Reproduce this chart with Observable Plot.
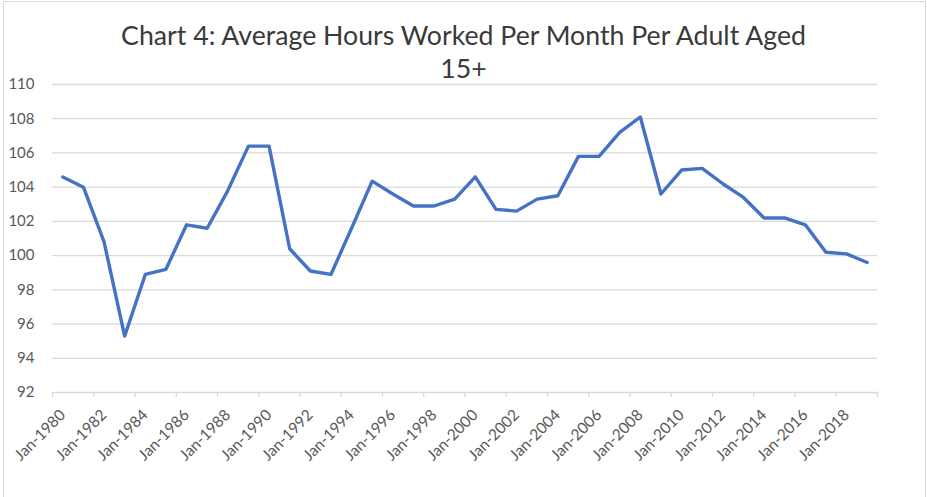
<!DOCTYPE html>
<html>
<head>
<meta charset="utf-8">
<script src="https://cdn.jsdelivr.net/npm/d3@7"></script>
<script src="https://cdn.jsdelivr.net/npm/@observablehq/plot@0.6"></script>
<style>
  html, body { margin: 0; padding: 0; background: #fff; }
  body { width: 927px; height: 497px; overflow: hidden; position: relative; font-family: Lato, "Open Sans", sans-serif; }
  #frame { position: absolute; left: 3px; top: 1px; width: 921px; height: 520px; border: 1px solid #d9d9d9; pointer-events: none; }
  #title { height: 66px; box-sizing: border-box; padding-top: 19px; text-align: center; font-size: 26.7px; line-height: 33px; color: #3a3a3a; position: relative; z-index: 1; }
  #chart svg { display: block; overflow: visible; }
</style>
</head>
<body>
<div id="frame"></div>
<div id="title">Chart 4: Average Hours Worked Per Month Per Adult Aged<br>15+</div>
<div id="chart"></div>
<script>
const years = d3.range(1980, 2020);
const hours = [
  104.6, 104.0, 100.8, 95.3, 98.9, 99.2, 101.8, 101.6, 103.8, 106.4,
  106.4, 100.4, 99.1, 98.9, 101.6, 104.35, 103.6, 102.9, 102.9, 103.3,
  104.6, 102.7, 102.6, 103.3, 103.5, 105.8, 105.8, 107.2, 108.1, 103.6,
  105.0, 105.1, 104.2, 103.4, 102.2, 102.2, 101.8, 100.2, 100.1, 99.6
];
const yTicks = d3.range(92, 111, 2);
const labelYears = d3.range(1980, 2019, 2);

const data = years.map((y, i) => ({pos: y - 1980 + 0.5, year: y, value: hours[i]}));

const chart = Plot.plot({
  width: 927,
  height: 431,
  marginTop: 18,
  marginBottom: 105,
  marginLeft: 52,
  marginRight: 50,
  style: {fontFamily: "Lato, 'Open Sans', sans-serif", fontSize: "15px", color: "#595959", background: "transparent"},
  x: {domain: [0, years.length]},
  y: {domain: [92, 110]},
  marks: [
    Plot.gridY(yTicks, {stroke: "#d9d9d9", strokeOpacity: 1, strokeWidth: 1.3}),
    Plot.axisY(yTicks, {tickSize: 0, tickPadding: 18, fontSize: 15, fill: "#595959", label: null}),
    Plot.axisX(d3.range(0, years.length + 1, 2), {tickSize: 5, stroke: "#d9d9d9", strokeWidth: 1.3, tickFormat: () => "", label: null}),
    Plot.axisX(labelYears.map(y => y - 1980 + 0.5), {
      tickSize: 0, tickPadding: 20, tickRotate: -45, fontSize: 15.5, fill: "#595959",
      tickFormat: d => "Jan-" + (1980 + Math.floor(d)), label: null
    }),
    Plot.line(data, {x: "pos", y: "value", stroke: "#4472c4", strokeWidth: 3.4, strokeLinejoin: "round", strokeLinecap: "round"})
  ]
});
document.getElementById("chart").append(chart);
</script>
</body>
</html>
